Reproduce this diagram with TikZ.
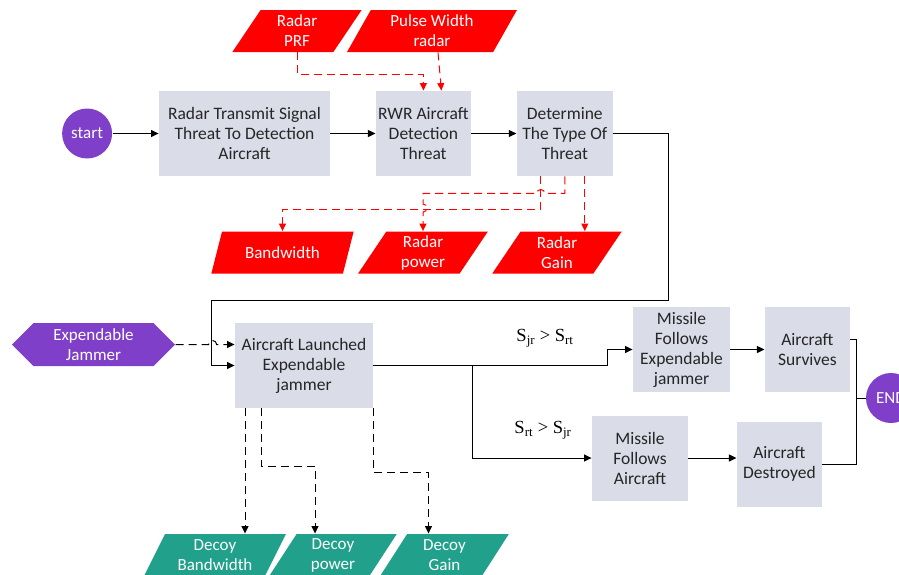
\documentclass[tikz,border=0pt]{standalone}
\usepackage{fontspec}
\setmainfont{Carlito}
\newfontfamily\timesfont{Liberation Serif}
\usepackage{tikz}
\usetikzlibrary{arrows.meta,positioning,calc,shapes.geometric,shapes.symbols}
\definecolor{boxgray}{HTML}{DADCE8}
\definecolor{ppl}{HTML}{7F3FC8}
\definecolor{tealg}{HTML}{21A08B}
\definecolor{txt}{HTML}{262626}

\begin{document}
\begin{tikzpicture}[x=1pt, y=-1pt, ->, >={Triangle[length=7.5pt,width=7pt]}, line width=0.9pt, node distance=45pt]
\tikzstyle{proc}=[rectangle,fill=boxgray,text=txt,minimum height=85pt,inner sep=2pt,align=center,font=\fontsize{17.5}{20}\selectfont]
\tikzstyle{param}=[trapezium,trapezium left angle=64,trapezium right angle=116,trapezium stretches=true,minimum height=42pt,inner sep=1pt,text=white,align=center,font=\fontsize{17}{20}\selectfont]
\tikzstyle{term}=[circle,fill=ppl,text=white,minimum size=50pt,inner sep=0pt,font=\fontsize{17}{20}\selectfont]
\tikzstyle{cond}=[text=black,font=\timesfont\fontsize{18.5}{20}\selectfont]
\tikzstyle{reddash}=[red,line width=1pt,dash pattern=on 8pt off 5pt]
\tikzstyle{blkdash}=[black,line width=1pt,dash pattern=on 8pt off 5pt]
\useasboundingbox (0,0) rectangle (899,574);
\node[proc,minimum width=171pt]  (b1) at (244.5,133.5)     {Radar Transmit Signal\\Threat To Detection\\Aircraft};
\node[proc,minimum width=95pt]   (b2) [right=of b1]        {RWR Aircraft\\Detection\\Threat};
\node[proc,minimum width=96pt]   (b3) [right=of b2]        {Determine\\The Type Of\\Threat};
\node[term]                      (start) [left=46pt of b1] {start};
\node[param,fill=red,minimum width=130pt] (prf) at (297,31)    {Radar\\PRF};
\node[param,fill=red,minimum width=170pt] (pw)  at (432,31)    {Pulse Width\\radar};
\node[param,fill=red,minimum width=143pt] (bw)  at (282.5,252.5) {Bandwidth};
\node[param,fill=red,minimum width=130pt] (rp)  at (423,252.5) {Radar\\power};
\node[param,fill=red,minimum width=130pt] (rg)  at (557,252.5) {Radar\\Gain};
\node[proc,minimum width=138pt]  (b4) at (304,365.5)       {Aircraft Launched\\Expendable\\jammer};
\node[signal,signal to=west and east,fill=ppl,text=white,minimum width=163pt,minimum height=43pt,inner sep=1pt,align=center,font=\fontsize{17}{20}\selectfont]
                                 (jam) at (93.5,344.5)     {Expendable\\Jammer};
\node[proc,minimum width=97pt]   (b5) at (681.5,349.5)     {Missile\\Follows\\Expendable\\jammer};
\node[proc,minimum width=85pt]   (b6) [right=34pt of b5]   {Aircraft\\Survives};
\node[proc,minimum width=96pt]   (b7) at (640,458)         {Missile\\Follows\\Aircraft};
\node[proc,minimum width=85pt]   (b8) [right=48pt of b7,yshift=-6pt] {Aircraft\\Destroyed};
\node[term]                      (endc) at (891,398)       {END};
\node[cond] (c1) at (545,338) {S\textsubscript{jr} > S\textsubscript{rt}};
\node[cond] (c2) at (543,430) {S\textsubscript{rt} > S\textsubscript{jr}};
\node[param,fill=tealg,minimum width=142pt] (dbw) at (215,555)   {Decoy\\Bandwidth};
\node[param,fill=tealg,minimum width=128pt] (dp)  at (333,555)   {Decoy\\power};
\node[param,fill=tealg,minimum width=129pt] (dg)  at (444.5,555) {Decoy\\Gain};
\coordinate (jn) at ($(endc.west)+(-9,0)$);
\coordinate (g0) at ($(b3.south)+(20,0)$);
\coordinate (k1) at ($(b4.south)+(-59,0)$);
\path
(start) edge (b1)
(b1)    edge (b2)
(b2)    edge (b3)
(b5)    edge (b6);
\draw (b7.east) -- (b7.east -| b8.west);
\draw (b3.east) -- ++(55,0) -- ++(0,167) -| ($(b4.west)+(-23,0)$) -- (b4.west);
\draw (b4.east) -| ($(b5.west)+(-25,0)$) -- (b5.west);
\draw ($(b4.east)+(99,0)$) |- (b7.west);
\draw[-] ($(b6.east)+(0,-10)$) -| (jn) |- (b8.east);
\draw[-] (jn) -- (endc.west);
\draw[reddash] (prf.south) |- ($(b2.north)+(0,-16)$) -- (b2.north);
\draw[reddash] ($(pw.south)+(6,0)$) -- ($(b2.north)+(18,0)$);
\draw[reddash] (g0) -- (g0 |- rg.north);
\draw[reddash] (b3.south) -- ++(0,17) -- ++(-20,0) arc[start angle=0,end angle=-180,radius=4]
    -| ($(rp.north)+(0,-27)$) arc[start angle=-90,end angle=90,radius=4] -- (rp.north);
\draw[reddash] ($(b3.south)+(-24,0)$) -- ++(0,33) -| (bw.north);
\draw[blkdash] (jam.east) -- ++(33,0) arc[start angle=180,end angle=360,radius=4] -- (jam.east -| b4.west);
\draw[blkdash] (k1) -- (k1 |- dbw.north);
\draw[blkdash] ($(b4.south)+(-43,0)$) -- ++(0,58) -| ($(dp.north)+(-18,0)$);
\draw[blkdash] (b4.south east) -- ++(0,64) -| ($(dg.north)+(-16,0)$);
\end{tikzpicture}
\end{document}
